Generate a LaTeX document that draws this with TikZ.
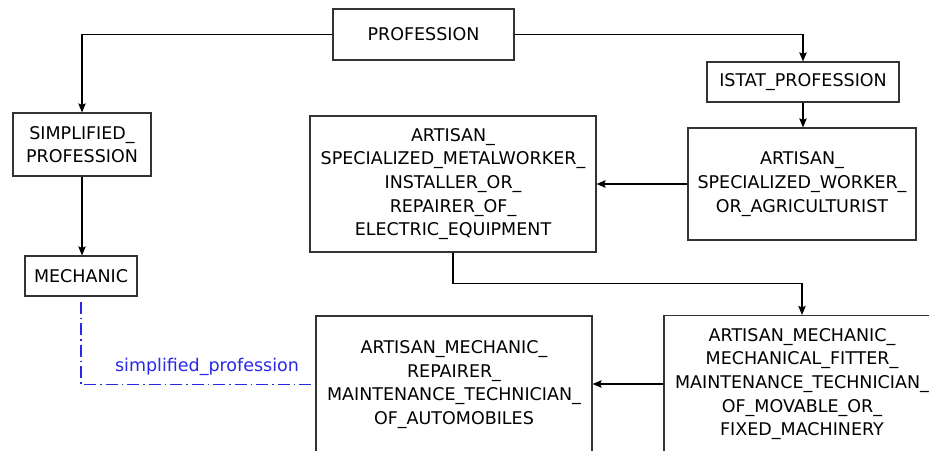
\documentclass[tikz,border=0pt]{standalone}
\usepackage{fontspec}
\newfontfamily\diagfont{DejaVu Sans}
\usetikzlibrary{arrows.meta}
\definecolor{linkblue}{RGB}{40,40,235}
\begin{document}
\begin{tikzpicture}[x=1pt,y=-1pt,
  box/.style={draw=black!80, line width=1.2pt, fill=white, inner sep=0pt,
    align=center, font=\diagfont\fontsize{17.5}{23.7}\selectfont},
  arr/.style={draw=black, line width=1.1pt, -{Stealth[length=9pt,width=7.5pt,inset=1.5pt]}},
  link/.style={draw=linkblue, line width=1.1pt, dash pattern=on 12pt off 4pt on 1.5pt off 4pt},
  linklabel/.style={text=linkblue, inner sep=0pt, font=\diagfont\fontsize{17.5}{21}\selectfont}]
  \fill[white] (0,0) rectangle (929,450);
  \useasboundingbox (0,0) rectangle (929,450);
  \clip (0,0) rectangle (929,450);

  % entity boxes
  \node[box, minimum width=181pt, minimum height=51pt] (prof) at (423.5,34.5) {PROFESSION};
  \node[box, minimum width=192pt, minimum height=40pt] (istat) at (803,82) {ISTAT\_PROFESSION};
  \node[box, minimum width=138pt, minimum height=63pt] (simp) at (82,144.5) {SIMPLIFIED\_\\PROFESSION};
  \node[box, minimum width=112pt, minimum height=40pt] (mech) at (81,276) {MECHANIC};
  \node[box, minimum width=286pt, minimum height=136pt] (elec) at (453,184)
    {ARTISAN\_\\SPECIALIZED\_METALWORKER\_\\INSTALLER\_OR\_\\REPAIRER\_OF\_\\ELECTRIC\_EQUIPMENT};
  \node[box, minimum width=228pt, minimum height=112pt] (agri) at (802,184)
    {ARTISAN\_\\SPECIALIZED\_WORKER\_\\OR\_AGRICULTURIST};
  \node[box, minimum width=276pt, minimum height=137pt] (rep) at (454,384.5)
    {ARTISAN\_MECHANIC\_\\REPAIRER\_\\MAINTENANCE\_TECHNICIAN\_\\OF\_AUTOMOBILES};
  \node[box, minimum width=276pt, minimum height=137pt] (fit) at (802,384)
    {ARTISAN\_MECHANIC\_\\MECHANICAL\_FITTER\_\\MAINTENANCE\_TECHNICIAN\_\\OF\_MOVABLE\_OR\_\\FIXED\_MACHINERY};

  % hierarchy connectors
  \draw[arr] (prof.west) -| (simp.north);
  \draw[arr] (prof.east) -| (istat.north);
  \draw[arr] (istat.south) -- (istat.south |- agri.north);
  \draw[arr] (simp.south) -- (simp.south |- mech.north);
  \draw[arr] (agri.west) -- (elec.east);
  \draw[arr] (elec.south) -- ++(0,31) -| (fit.north);
  \draw[arr] (fit.west) -- (fit.west -| rep.east);

  % simplified profession link
  \draw[link] ([yshift=-5pt]mech.south) |- (rep.west);
  \node[linklabel] (lbl) at (207,367) {simplified\_profession};
\end{tikzpicture}
\end{document}
